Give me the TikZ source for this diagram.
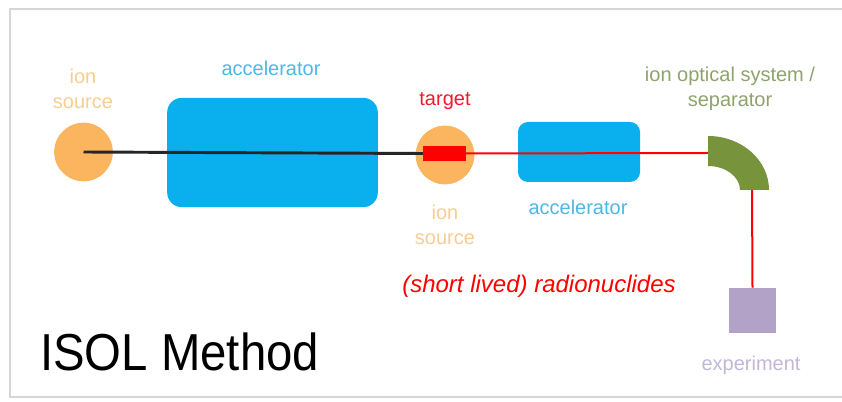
\documentclass[tikz,border=0pt]{standalone}
\usepackage{fontspec}
\setmainfont{Liberation Sans}
\usepackage{tikz}
\usetikzlibrary{positioning}
\definecolor{srcorange}{HTML}{FBB55E}
\definecolor{srclabel}{HTML}{F8CD93}
\definecolor{accblue}{HTML}{0AAFEE}
\definecolor{acclabel}{HTML}{4DB7E8}
\definecolor{tgtred}{HTML}{FF0000}
\definecolor{tgtlabel}{HTML}{EC1C2C}
\definecolor{sepgreen}{HTML}{77933C}
\definecolor{seplabel}{HTML}{8FA36C}
\definecolor{exppurple}{HTML}{B2A2C7}
\definecolor{explabel}{HTML}{C2B7D6}
\definecolor{framegray}{HTML}{D6D6D6}

\begin{document}
\begin{tikzpicture}[x=0.75pt,y=-0.75pt,
    lbl/.style={align=center,inner sep=0pt,font=\fontsize{15}{18.75}\selectfont},
    src/.style={circle,fill=srcorange,minimum size=44pt,inner sep=0pt},
    acc/.style={rectangle,fill=accblue,inner sep=0pt},
    beam/.style={line width=1.5pt,tgtred}]
  \useasboundingbox (0,0) rectangle (842,402);
  \fill[white] (0,0) rectangle (842,402);
  \draw[framegray,line width=1.6pt] (10,9) rectangle (850,397);

  % beam line components
  \node[src] (src1) at (83.5,152) {};
  \node[acc,minimum width=158pt,minimum height=82pt,rounded corners=11pt] (acc1) at (272.5,152.5) {};
  \node[src] (src2) at (445,155) {};
  \node[acc,minimum width=91.5pt,minimum height=45pt,rounded corners=7.5pt] (acc2) at (579,152) {};
  \node[rectangle,fill=tgtred,minimum width=32pt,minimum height=11pt,inner sep=0pt] (tgt) at (444.5,153.5) {};
  \node[rectangle,fill=exppurple,minimum width=35pt,minimum height=34pt,inner sep=0pt] (exp) at (752.5,310.5) {};

  % separator (quarter ring)
  \fill[sepgreen] (708,136) arc[start angle=90,end angle=0,x radius=45.75pt,y radius=40.5pt]
    -- (740,190) arc[start angle=0,end angle=90,x radius=24pt,y radius=18pt] -- cycle;
  \coordinate (sepin) at (708,153);
  \coordinate (sepout) at (752,190);

  % beams
  \draw[line width=2.2pt,black!85] (src1.center) -- (tgt.west);
  \draw[beam] (tgt.east) -- (sepin);
  \draw[beam] (sepout) -- (exp.north);

  % labels
  \node[lbl,text=srclabel] (lsrc1) at (83,89) {ion\\source};
  \node[lbl,text=acclabel] (lacc1) at (271,68) {accelerator};
  \node[lbl,text=tgtlabel] (ltgt) at (445,101) {target};
  \node[lbl,text=srclabel] (lsrc2) at (445,225) {ion\\source};
  \node[lbl,text=acclabel] (lacc2) at (578,207) {accelerator};
  \node[lbl,text=seplabel] (lsep) at (730,89) {ion optical system /\\separator};
  \node[lbl,text=tgtred,font=\fontsize{18}{21}\selectfont\itshape] (lrad) at (539,286) {(short lived) radionuclides};
  \node[anchor=base west,inner sep=0pt,xscale=0.91,font=\fontsize{39}{42}\selectfont] (ltitle) at (40,370) {ISOL Method};
  \node[lbl,text=explabel] (lexp) at (751,365) {experiment};
\end{tikzpicture}
\end{document}
